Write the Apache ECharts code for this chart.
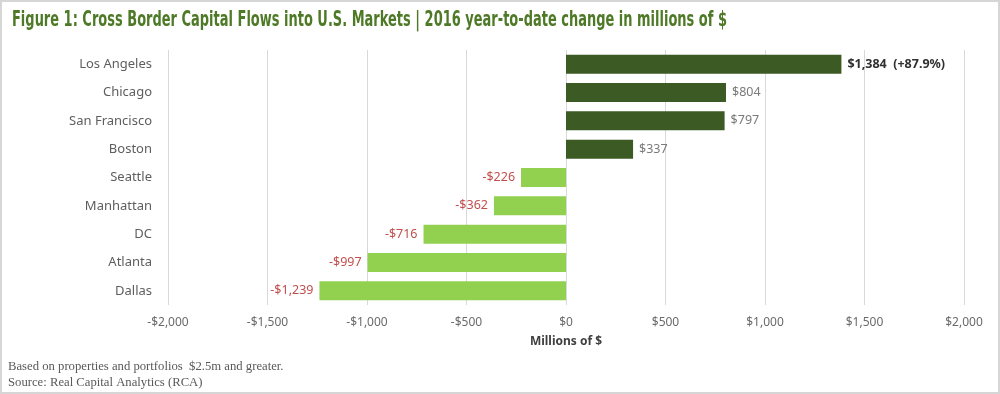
<!DOCTYPE html>
<html><head><meta charset="utf-8">
<script src="https://cdn.jsdelivr.net/npm/echarts@6/dist/echarts.min.js"></script>
<style>
html,body{margin:0;padding:0;background:#fff;}
#frame{width:1000px;height:394px;box-sizing:border-box;border:2px solid #d6d6d6;position:relative;overflow:hidden;}
#c{position:absolute;left:-2px;top:-2px;width:1000px;height:394px;}
</style></head>
<body><div id="frame"><div id="c"></div></div>
<script>
const title = "Figure 1: Cross Border Capital Flows into U.S. Markets | 2016 year-to-date change in millions of $";
const categories = ["Los Angeles","Chicago","San Francisco","Boston","Seattle","Manhattan","DC","Atlanta","Dallas"];
const values = [1384, 804, 797, 337, -226, -362, -716, -997, -1239];
const notes = ["", "", "", "", "", "", "", "", ""];
notes[0] = "(+87.9%)";
const axisName = "Millions of $";
const footnotes = ["Based on properties and portfolios  $2.5m and greater.", "Source: Real Capital Analytics (RCA)"];
const xMin = -2000, xMax = 2000, xStep = 500;

function money(v){
  const s = "$" + Math.abs(v).toLocaleString("en-US");
  return v < 0 ? "-" + s : s;
}

const bodyFont = "'Noto Sans', sans-serif";
const titleFont = "bold 21px 'DejaVu Sans', sans-serif";
// compress title horizontally to the reference's condensed width
const mctx = document.createElement("canvas").getContext("2d");
mctx.font = titleFont;
const titleScale = 715 / mctx.measureText(title).width;

const data = values.map((v, i) => {
  const pos = v >= 0;
  const item = {
    value: v,
    itemStyle: { color: pos ? "#3b5a24" : "#92d050" },
    label: {
      show: true,
      position: pos ? "right" : "left",
      distance: 6,
      color: pos ? "#7a7a7a" : "#c0504d",
      fontSize: 12.5,
      fontFamily: bodyFont
    }
  };
  if (notes[i]) {
    item.label.color = "#303030";
    item.label.fontWeight = "bold";
    item.label.fontSize = 12.5;
  }
  return item;
});

const chart = echarts.init(document.getElementById("c"), null, {renderer: "canvas"});
chart.setOption({
  animation: false,
  backgroundColor: "transparent",
  graphic: [{
    type: "text", left: 12, top: 10, scaleX: titleScale,
    style: { text: title, fill: "#4e7a27", font: titleFont }
  }].concat(footnotes.map((t, i) => ({
    type: "text", left: 8, top: 360 + i * 16,
    style: { text: t, fill: "#595959", font: "12.7px 'Liberation Serif', serif" }
  }))),
  grid: { left: 168, right: 36, top: 50, height: 255 },
  xAxis: {
    type: "value", min: xMin, max: xMax, interval: xStep,
    axisLine: { show: false }, axisTick: { show: false },
    splitLine: { show: true, lineStyle: { color: "#d9d9d9", width: 1 } },
    axisLabel: { color: "#6a6a6a", fontSize: 12, fontFamily: bodyFont, margin: 12, formatter: v => money(v) },
    name: axisName, nameLocation: "middle", nameGap: 31,
    nameTextStyle: { color: "#404040", fontSize: 12, fontWeight: "bold", fontFamily: bodyFont }
  },
  yAxis: {
    type: "category", data: categories, inverse: true,
    axisLine: { show: false }, axisTick: { show: false },
    axisLabel: { color: "#5e5e5e", fontSize: 13, fontFamily: bodyFont, margin: 16 }
  },
  series: [{
    type: "bar", data: data, barWidth: 19,
    label: {
      formatter: p => notes[p.dataIndex] ? money(p.value) + "  " + notes[p.dataIndex] : money(p.value)
    }
  }]
});
</script></body></html>
